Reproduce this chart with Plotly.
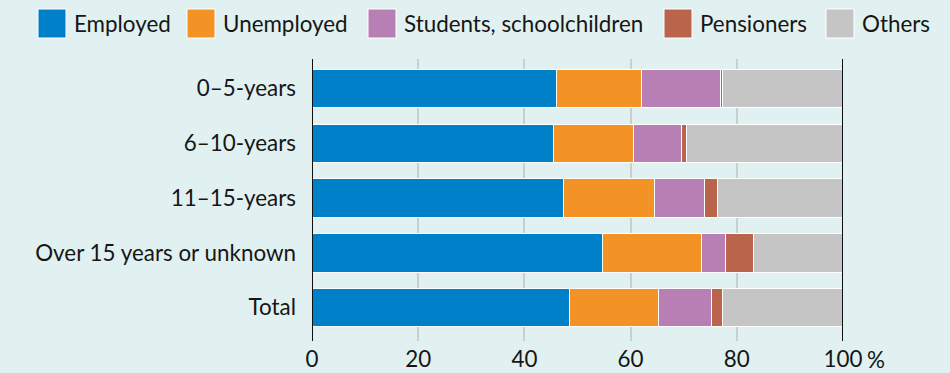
import plotly.graph_objects as go

# Share of each group by duration category (%)
categories = ["0–5-years", "6–10-years", "11–15-years", "Over 15 years or unknown", "Total"]
series_names = ["Employed", "Unemployed", "Students, schoolchildren", "Pensioners", "Others"]
employed = [46.0, 45.4, 47.3, 54.8, 48.5]
unemployed = [16.0, 15.1, 17.2, 18.6, 16.7]
students = [14.9, 9.1, 9.4, 4.4, 10.1]
pensioners = [0.4, 1.0, 2.5, 5.3, 2.1]
others = [22.7, 29.4, 23.6, 16.9, 22.6]
x_ticks = [0, 20, 40, 60, 80, 100]
x_tick_labels = ["0", "20", "40", "60", "80", "100"]

colors = ["#0080C9", "#F39325", "#B87FB4", "#BA644B", "#C5C5C5"]
values = [employed, unemployed, students, pensioners, others]

BG = "#E1F1F1"
FONT = "Lato"
FS = 22.4
TXT = "#161616"

W, H = 950, 373
L, R, T, B = 312, 843, 59, 341  # plot area in pixels


def px(xp):
    return (xp - L) / (R - L)


def py(yp):
    return (B - yp) / (B - T)


fig = go.Figure()
for name, vals, col in zip(series_names, values, colors):
    fig.add_trace(go.Bar(
        y=categories, x=vals, name=name, orientation="h",
        marker=dict(color=col, line=dict(color="white", width=1)),
        width=0.7, showlegend=False,
    ))

# Legend drawn as large swatches with labels
legend_items = [(38, 72), (187, 221), (368, 402), (664, 698), (826, 860)]
shapes = []
annotations = []
for (sx, tx), name, col in zip(legend_items, series_names, colors):
    shapes.append(dict(
        type="rect", xref="paper", yref="paper",
        x0=px(sx), x1=px(sx + 28), y0=py(38), y1=py(9),
        fillcolor=col, line=dict(color="white", width=1), layer="above",
    ))
    annotations.append(dict(
        xref="paper", yref="paper", x=px(tx), y=py(23.5),
        text=name, showarrow=False, xanchor="left", yanchor="middle",
        font=dict(family=FONT, size=FS, color=TXT),
    ))

# Percent sign following the last tick label
annotations.append(dict(
    xref="x", yref="paper", x=100, y=py(359),
    text="%", showarrow=False, xanchor="left", yanchor="middle",
    xshift=22, font=dict(family=FONT, size=FS, color=TXT),
))

fig.update_layout(
    barmode="stack",
    width=W, height=H,
    margin=dict(l=L, r=W - R, t=T, b=H - B, pad=0, autoexpand=False),
    paper_bgcolor=BG, plot_bgcolor=BG,
    font=dict(family=FONT, size=FS, color=TXT),
    bargap=0.3,
    shapes=shapes,
    annotations=annotations,
)
fig.update_xaxes(
    range=[0, 100], tickvals=x_ticks, ticktext=x_tick_labels,
    showgrid=True, gridcolor="#C9CFCF", gridwidth=1.5,
    zeroline=False, showline=False, ticks="", ticklabelstandoff=3,
    automargin=False,
    tickfont=dict(family=FONT, size=FS, color=TXT),
)
fig.update_yaxes(
    range=[4.61, -0.54], showgrid=False, zeroline=False,
    showline=False, ticks="", ticklabelstandoff=15,
    automargin=False,
    tickfont=dict(family=FONT, size=FS, color=TXT),
)
# Black frame lines at 0 and 100
for xv in (0, 100):
    fig.add_shape(type="line", xref="x", yref="paper", x0=xv, x1=xv, y0=0, y1=1,
                  line=dict(color="#111111", width=2), layer="above")

fig.write_html("out.html")
